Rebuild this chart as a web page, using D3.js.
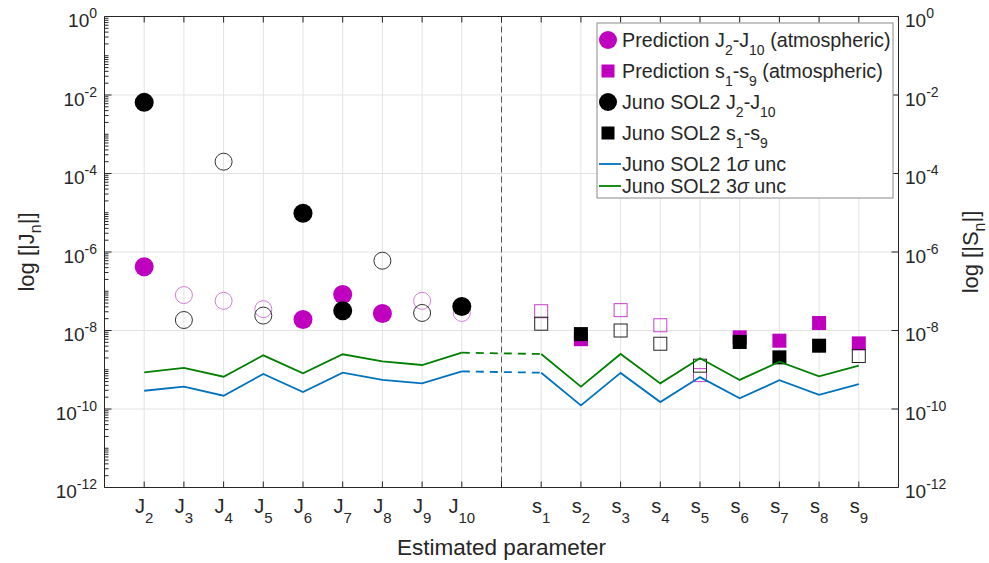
<!DOCTYPE html>
<html>
<head>
<meta charset="utf-8">
<script src="https://cdn.jsdelivr.net/npm/d3@7"></script>
<style>
  body { margin: 0; background: #fff; }
  text { font-family: "Liberation Sans", Arial, Helvetica, sans-serif; fill: #262626; }
</style>
</head>
<body>
<script>
// categories along x (index 1..9 = J, 11..19 = s)
var jNames = ['2', '3', '4', '5', '6', '7', '8', '9', '10'],
    sNames = ['1', '2', '3', '4', '5', '6', '7', '8', '9'];

// signed values: negative ones are drawn as open markers
var predJ = [4.2e-7, -8e-8, -5.7e-8, -3.5e-8, 1.9e-8, 8.3e-8, 2.7e-8, -5.7e-8, -2.8e-8],
    junoJ = [6.5e-3, -1.85e-8, -2.0e-4, -2.4e-8, 9.7e-6, 3.2e-8, -6.0e-7, -2.8e-8, 4.1e-8],
    predS = [-3.1e-8, 6.0e-9, -3.3e-8, -1.36e-8, -7.3e-10, 6.7e-9, 5.5e-9, 1.55e-8, 4.7e-9],
    junoS = [-1.49e-8, 8.1e-9, -1.0e-8, -4.6e-9, -1.27e-9, 5.1e-9, 2.07e-9, 4.1e-9, -2.24e-9];

var unc1J = [2.92e-10, 3.7e-10, 2.18e-10, 7.8e-10, 2.71e-10, 8.4e-10, 5.5e-10, 4.5e-10, 9.1e-10],
    unc3J = [8.6e-10, 1.11e-9, 6.65e-10, 2.33e-9, 8.1e-10, 2.48e-9, 1.64e-9, 1.32e-9, 2.72e-9],
    unc1S = [8.4e-10, 1.24e-10, 8.3e-10, 1.5e-10, 6.5e-10, 1.87e-10, 5.4e-10, 2.3e-10, 4.3e-10],
    unc3S = [2.52e-9, 3.7e-10, 2.52e-9, 4.5e-10, 1.96e-9, 5.5e-10, 1.6e-9, 6.8e-10, 1.27e-9];

var yTicks = [0, -2, -4, -6, -8, -10, -12];

var legendItems = [
    {label: ['Prediction J', '2', '-J', '10', ' (atmospheric)'], kind: 'circle', color: '#bf00bf'},
    {label: ['Prediction s', '1', '-s', '9', ' (atmospheric)'], kind: 'square', color: '#bf00bf'},
    {label: ['Juno SOL2 J', '2', '-J', '10'], kind: 'circle', color: '#000'},
    {label: ['Juno SOL2 s', '1', '-s', '9'], kind: 'square', color: '#000'},
    {label: ['Juno SOL2 1', 'σ', ' unc'], kind: 'line', color: '#0072bd'},
    {label: ['Juno SOL2 3', 'σ', ' unc'], kind: 'line', color: '#008000'}
];

var width = 989,
    height = 563,
    pLeft = 104.5,
    pRight = 898.5,
    pTop = 16.5,
    pBottom = 487.5,
    magenta = '#bf00bf',
    blue = '#0072bd',
    green = '#008000';

var x = d3.scaleLinear().domain([0, 20]).range([pLeft, pRight]),
    y = d3.scaleLog().domain([1e-12, 1]).range([pBottom, pTop]);

var jIdx = d3.range(1, 10),
    sIdx = d3.range(11, 20);

var svg = d3.select('body').append('svg')
    .attr('width', width)
    .attr('height', height);

// grid
var grid = svg.append('g');
grid.selectAll('line.vx')
    .data(d3.range(1, 20))
    .enter().append('line')
    .attr('x1', function(d) { return x(d); })
    .attr('x2', function(d) { return x(d); })
    .attr('y1', pTop).attr('y2', pBottom)
    .attr('stroke', '#e3e3e3').attr('stroke-width', 1);
grid.selectAll('line.hy')
    .data(yTicks.slice(1, -1))
    .enter().append('line')
    .attr('x1', pLeft).attr('x2', pRight)
    .attr('y1', function(d) { return y(Math.pow(10, d)); })
    .attr('y2', function(d) { return y(Math.pow(10, d)); })
    .attr('stroke', '#e3e3e3').attr('stroke-width', 1);

// separator between J and s
svg.append('line')
    .attr('x1', x(10)).attr('x2', x(10))
    .attr('y1', pTop).attr('y2', pBottom)
    .attr('stroke', '#555').attr('stroke-width', 1)
    .attr('stroke-dasharray', '6,4');

function drawMarkers(vals, idx, kind, color, openColor) {
    var g = svg.append('g');
    vals.forEach(function(v, i) {
        var cx = x(idx[i]), cy = y(Math.abs(v)), filled = v > 0;
        var m;
        if (kind === 'circle') {
            m = g.append('circle')
                .attr('cx', cx).attr('cy', cy)
                .attr('r', filled ? 9.5 : 8.5);
        } else {
            var s = filled ? 14 : 13;
            m = g.append('rect')
                .attr('x', cx - s / 2).attr('y', cy - s / 2)
                .attr('width', s).attr('height', s);
        }
        if (filled) {
            m.attr('fill', color);
        } else {
            m.attr('fill', 'none').attr('stroke', openColor).attr('stroke-width', 1);
        }
    });
}

drawMarkers(predJ, jIdx, 'circle', magenta, '#d77cd7');
drawMarkers(predS, sIdx, 'square', magenta, '#c840c8');
drawMarkers(junoJ, jIdx, 'circle', '#000', '#333');
drawMarkers(junoS, sIdx, 'square', '#000', '#222');

// uncertainty lines, dashed across the gap
var line = d3.line()
    .x(function(d) { return x(d[0]); })
    .y(function(d) { return y(d[1]); });

[[unc1J, unc1S, blue], [unc3J, unc3S, green]].forEach(function(u) {
    var jp = jIdx.map(function(d, i) { return [d, u[0][i]]; }),
        sp = sIdx.map(function(d, i) { return [d, u[1][i]]; });
    svg.append('path').attr('d', line(jp))
        .attr('fill', 'none').attr('stroke', u[2]).attr('stroke-width', 1.8);
    svg.append('path').attr('d', line(sp))
        .attr('fill', 'none').attr('stroke', u[2]).attr('stroke-width', 1.8);
    svg.append('path').attr('d', line([jp[jp.length - 1], sp[0]]))
        .attr('fill', 'none').attr('stroke', u[2]).attr('stroke-width', 1.8)
        .attr('stroke-dasharray', '8,6');
});

// axes box
var axes = svg.append('g').attr('stroke', '#262626').attr('stroke-width', 1);
axes.append('line').attr('x1', pLeft).attr('x2', pRight).attr('y1', pBottom).attr('y2', pBottom);
axes.append('line').attr('x1', pLeft).attr('x2', pRight).attr('y1', pTop).attr('y2', pTop);
axes.append('line').attr('x1', pLeft).attr('x2', pLeft).attr('y1', pTop).attr('y2', pBottom);
axes.append('line').attr('x1', pRight).attr('x2', pRight).attr('y1', pTop).attr('y2', pBottom);

d3.range(1, 20).forEach(function(d) {
    axes.append('line').attr('x1', x(d)).attr('x2', x(d)).attr('y1', pBottom).attr('y2', pBottom - 6);
    axes.append('line').attr('x1', x(d)).attr('x2', x(d)).attr('y1', pTop).attr('y2', pTop + 6);
});

// left log ticks (major + minor), right majors only
d3.range(-12, 0).forEach(function(e) {
    d3.range(1, 10).forEach(function(k) {
        var v = k * Math.pow(10, e);
        if (k === 1 && e % 2 === 0) return;
        axes.append('line').attr('x1', pLeft).attr('x2', pLeft + 4)
            .attr('y1', y(v)).attr('y2', y(v));
    });
});
yTicks.forEach(function(e) {
    var yy = y(Math.pow(10, e));
    axes.append('line').attr('x1', pLeft).attr('x2', pLeft + 7).attr('y1', yy).attr('y2', yy);
    axes.append('line').attr('x1', pRight).attr('x2', pRight - 7).attr('y1', yy).attr('y2', yy);
});

function powLabel(g, px, py, e, anchor) {
    var t = g.append('text')
        .attr('x', px).attr('y', py + 10.5)
        .attr('text-anchor', anchor)
        .style('font-size', '19px');
    t.append('tspan').text('10');
    t.append('tspan').attr('dy', -9).style('font-size', '14px').text(e);
}

var labels = svg.append('g');
yTicks.forEach(function(e) {
    var yy = y(Math.pow(10, e));
    powLabel(labels, 97, yy, e, 'end');
    powLabel(labels, 905, yy, e, 'start');
});

function subLabel(g, px, py, base, sub, size) {
    var t = g.append('text')
        .attr('x', px).attr('y', py)
        .attr('text-anchor', 'middle')
        .style('font-size', size + 'px');
    t.append('tspan').text(base);
    t.append('tspan').attr('dy', 10).style('font-size', (size * 0.75) + 'px').text(sub);
    return t;
}

jNames.forEach(function(n, i) { subLabel(labels, x(jIdx[i]), 513, 'J', n, 20); });
sNames.forEach(function(n, i) { subLabel(labels, x(sIdx[i]), 513, 's', n, 20); });

labels.append('text')
    .attr('x', (pLeft + pRight) / 2).attr('y', 555)
    .attr('text-anchor', 'middle')
    .style('font-size', '22.5px')
    .text('Estimated parameter');

function yLabel(px, letter) {
    var t = labels.append('text')
        .attr('transform', 'translate(' + px + ',' + ((pTop + pBottom) / 2) + ')rotate(-90)')
        .attr('text-anchor', 'middle')
        .style('font-size', '22px');
    t.append('tspan').text('log [|' + letter);
    t.append('tspan').attr('dy', 7).style('font-size', '16px').text('n');
    t.append('tspan').attr('dy', -7).text('|]');
}
yLabel(34, 'J');
yLabel(978, 'S');

// legend
var lg = svg.append('g');
lg.append('rect')
    .attr('x', 597).attr('y', 23)
    .attr('width', 296).attr('height', 175)
    .attr('fill', '#fff').attr('stroke', '#8a8a8a').attr('stroke-width', 1);

var rowY = [40, 71, 102, 133, 164, 186];
legendItems.forEach(function(d, i) {
    var cy = rowY[i];
    if (d.kind === 'circle') {
        lg.append('circle').attr('cx', 608).attr('cy', cy).attr('r', 9).attr('fill', d.color);
    } else if (d.kind === 'square') {
        lg.append('rect').attr('x', 601.5).attr('y', cy - 6.5).attr('width', 13).attr('height', 13).attr('fill', d.color);
    } else {
        lg.append('line').attr('x1', 599).attr('x2', 621).attr('y1', cy).attr('y2', cy)
            .attr('stroke', d.color).attr('stroke-width', 1.8);
    }
    var t = lg.append('text')
        .attr('x', 622).attr('y', cy + 6.5)
        .style('font-size', '19.7px');
    d.label.forEach(function(part, j) {
        var sp = t.append('tspan').text(part);
        if (d.kind === 'line') {
            if (j === 1) sp.style('font-style', 'italic');
            return;
        }
        if (j % 2 === 1) sp.attr('dy', 8).style('font-size', '14px');
        else if (j > 0) sp.attr('dy', -8);
    });
});
</script>
</body>
</html>
